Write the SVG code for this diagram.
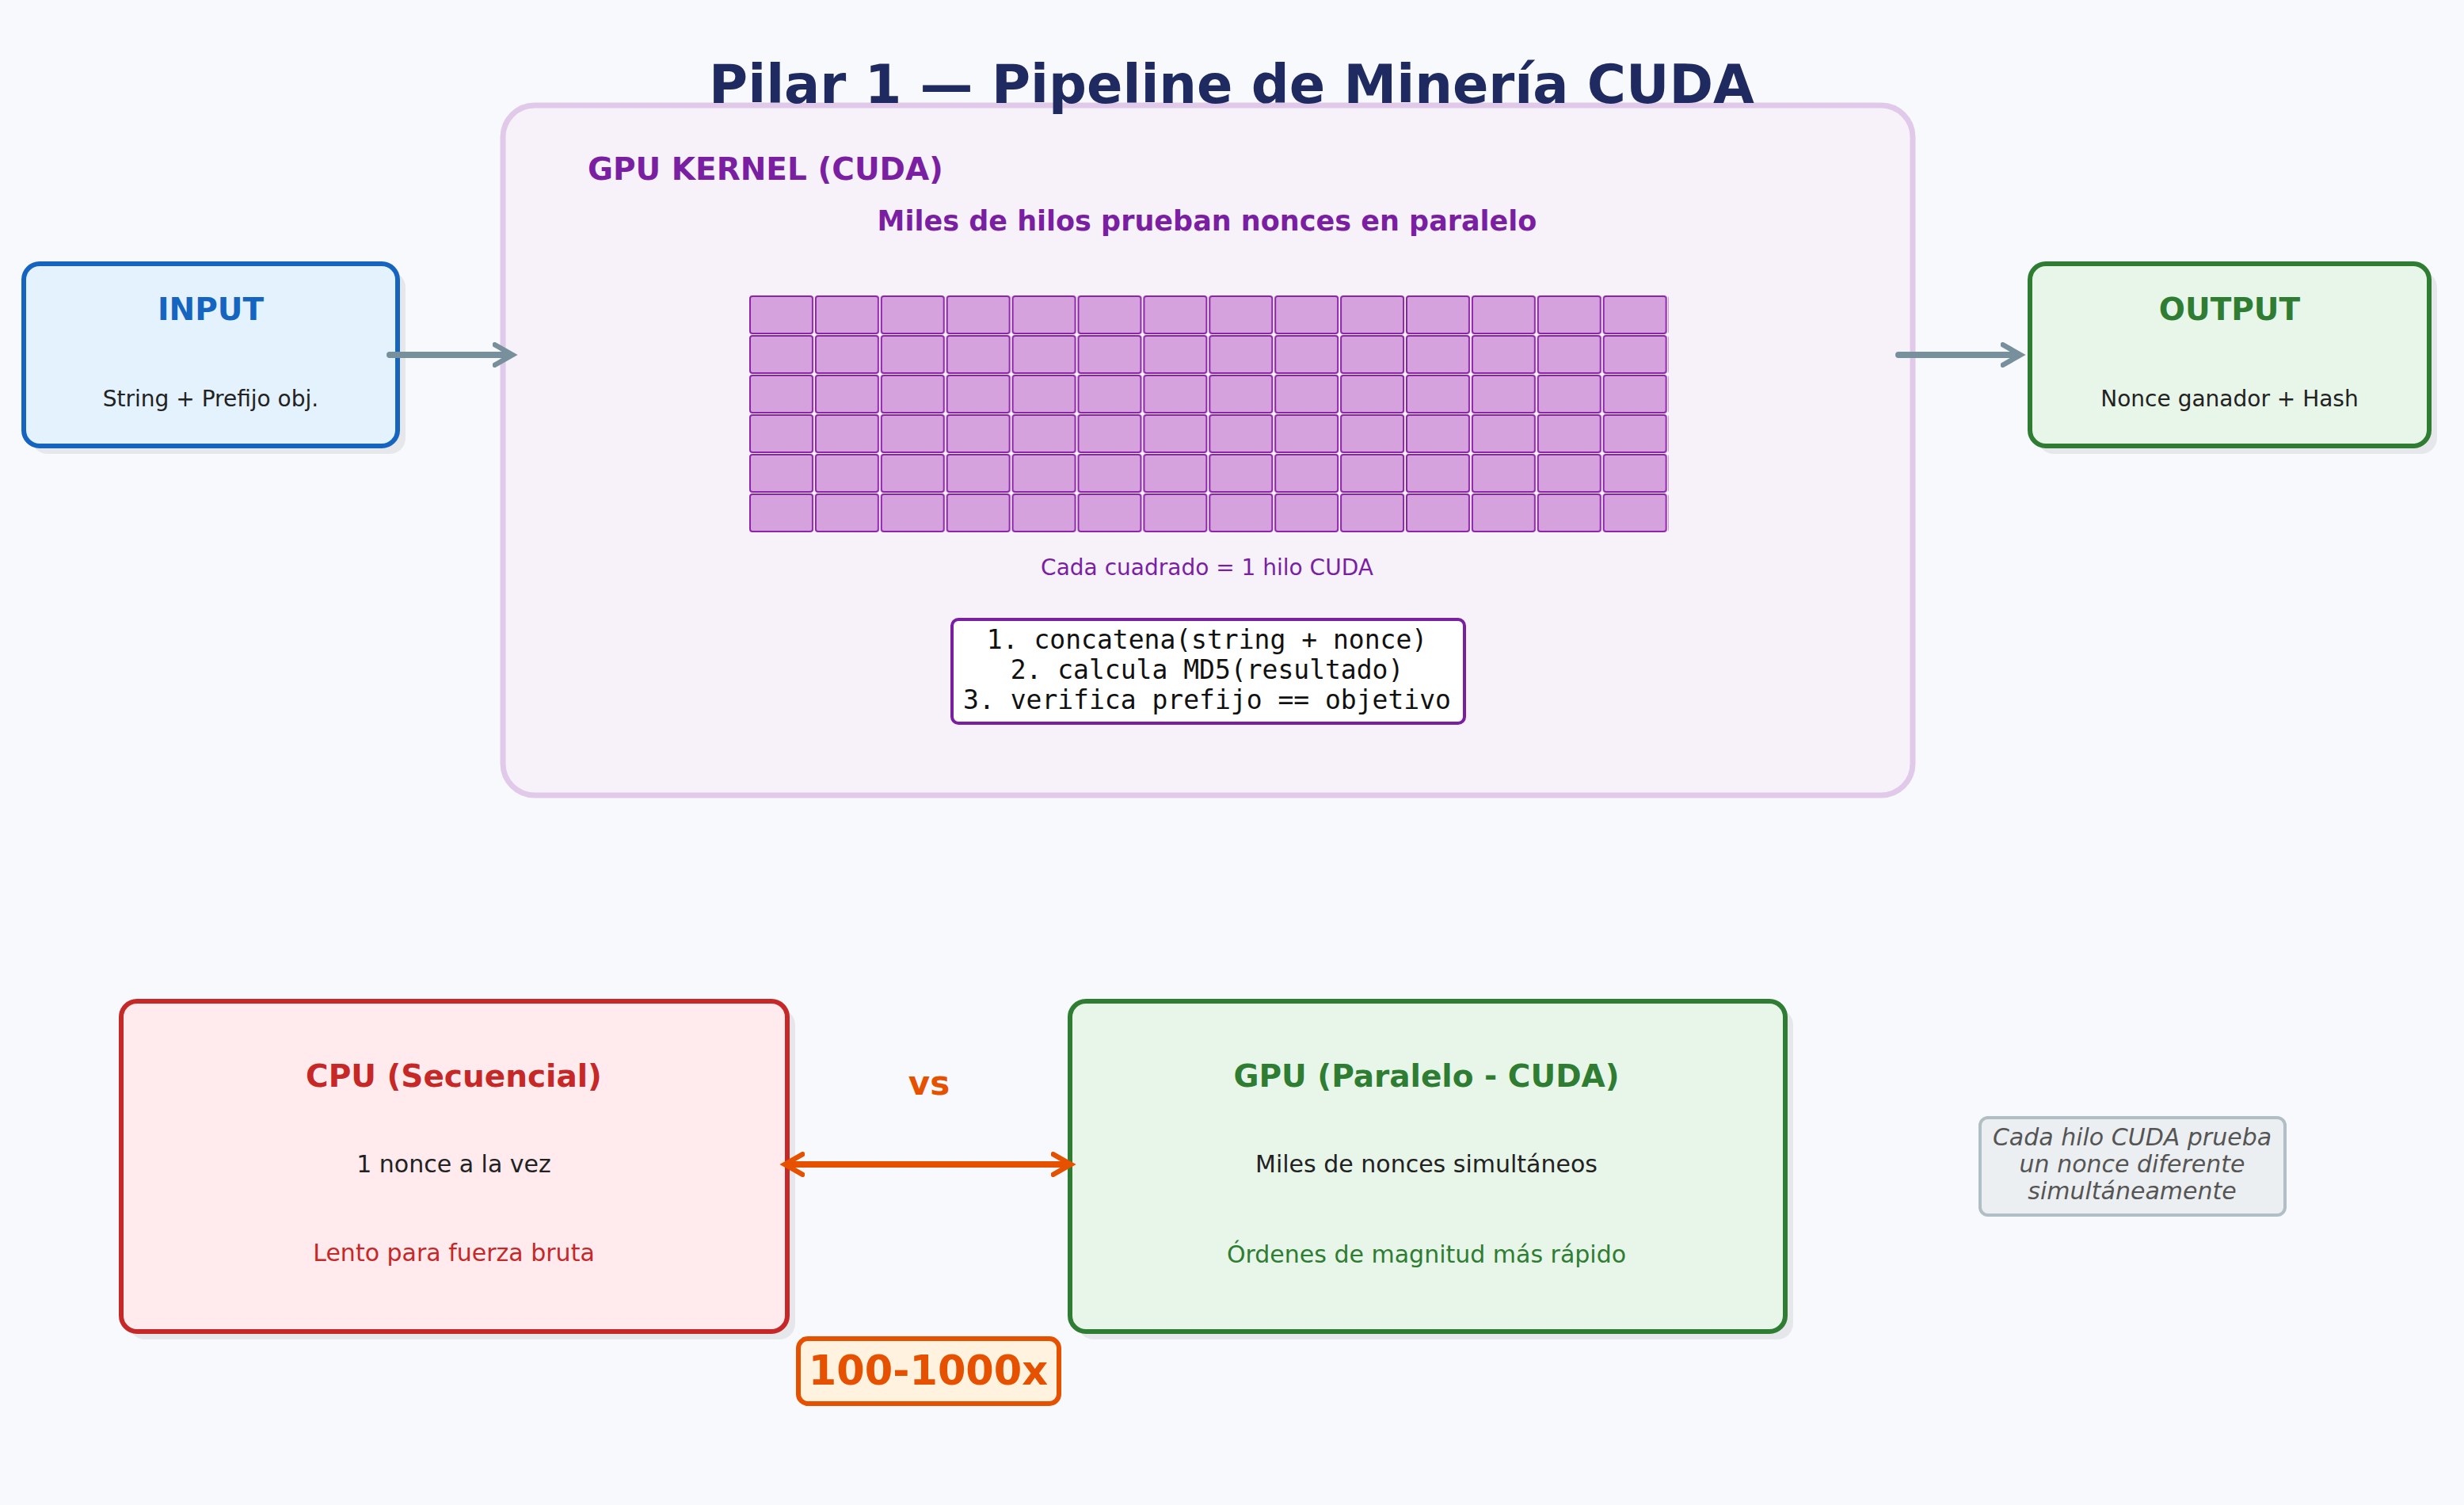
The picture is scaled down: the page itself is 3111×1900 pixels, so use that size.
<svg xmlns="http://www.w3.org/2000/svg" width="3111" height="1900" viewBox="0 0 3111 1900">
<style>
text{font-family:"DejaVu Sans",sans-serif;text-anchor:middle}
.b{font-weight:bold}
.cell{fill:#d6a2de;stroke:#8e24aa;stroke-width:2}
.sh{fill:#000;opacity:0.07}
.code{font-family:"DejaVu Sans Mono",monospace;font-size:33px;fill:#111}
</style>
<defs>
<marker id="ag" viewBox="0 0 10 10" refX="7" refY="5" markerWidth="4" markerHeight="4" orient="auto"><path d="M1,1 L8,5 L1,9" fill="none" stroke="#78909c" stroke-width="2" stroke-linecap="round"/></marker>
<marker id="ao" viewBox="0 0 10 10" refX="7" refY="5" markerWidth="4" markerHeight="4" orient="auto-start-reverse"><path d="M1,1 L8,5 L1,9" fill="none" stroke="#e65100" stroke-width="2" stroke-linecap="round"/></marker>
<pattern id="grid" x="946" y="373" width="82.9" height="50" patternUnits="userSpaceOnUse"><rect x="1" y="1" width="79" height="47" rx="3" class="cell"/></pattern>
</defs>
<rect width="3111" height="1900" fill="#f8f9fc"/>
<g id="kernel">
<rect x="635" y="133" width="1780" height="871" rx="40" fill="#f7f2fa" stroke="#e1c9ea" stroke-width="7"/>
<text x="742" y="227" class="b" font-size="39" fill="#7b1fa2" style="text-anchor:start">GPU KERNEL (CUDA)</text>
<text x="1524" y="291" class="b" font-size="35" fill="#7b1fa2">Miles de hilos prueban nonces en paralelo</text>
<rect x="945" y="372" width="1162" height="300" fill="url(#grid)"/>
<text x="1524" y="726" font-size="28" fill="#7b1fa2">Cada cuadrado = 1 hilo CUDA</text>
<rect x="1202" y="782" width="647" height="131" rx="8" fill="#fff" stroke="#7b1fa2" stroke-width="4"/>
<text x="1524" y="819" class="code">1. concatena(string + nonce)</text>
<text x="1524" y="857" class="code">2. calcula MD5(resultado)</text>
<text x="1524" y="895" class="code">3. verifica prefijo == objetivo</text>
</g>
<text x="1555" y="130" class="b" font-size="67" fill="#1f2a60">Pilar 1 — Pipeline de Minería CUDA</text>
<g id="input">
<rect x="40" y="343" width="472" height="230" rx="20" class="sh"/>
<rect x="30" y="333" width="472" height="230" rx="20" fill="#e3f2fd" stroke="#1565c0" stroke-width="6"/>
<text x="266" y="404" class="b" font-size="39" fill="#1565c0">INPUT</text>
<text x="266" y="513" font-size="28" fill="#222">String + Prefijo obj.</text>
</g>
<g id="output">
<rect x="2573" y="343" width="504" height="230" rx="20" class="sh"/>
<rect x="2563" y="333" width="504" height="230" rx="20" fill="#e8f5e9" stroke="#2e7d32" stroke-width="6"/>
<text x="2815" y="404" class="b" font-size="39" fill="#2e7d32">OUTPUT</text>
<text x="2815" y="513" font-size="28" fill="#222">Nonce ganador + Hash</text>
</g>
<g id="cpu">
<rect x="163" y="1274" width="841" height="417" rx="20" class="sh"/>
<rect x="153" y="1264" width="841" height="417" rx="20" fill="#ffebee" stroke="#c62828" stroke-width="6"/>
<text x="573" y="1372" class="b" font-size="39" fill="#c62828">CPU (Secuencial)</text>
<text x="573" y="1480" font-size="30" fill="#222">1 nonce a la vez</text>
<text x="573" y="1592" font-size="30" fill="#c62828">Lento para fuerza bruta</text>
</g>
<g id="gpu">
<rect x="1361" y="1274" width="903" height="417" rx="20" class="sh"/>
<rect x="1351" y="1264" width="903" height="417" rx="20" fill="#e8f5e9" stroke="#2e7d32" stroke-width="6"/>
<text x="1801" y="1372" class="b" font-size="39" fill="#2e7d32">GPU (Paralelo - CUDA)</text>
<text x="1801" y="1480" font-size="30" fill="#222">Miles de nonces simultáneos</text>
<text x="1801" y="1594" font-size="30" fill="#2e7d32">Órdenes de magnitud más rápido</text>
</g>
<g id="vs"><text x="1173" y="1382" class="b" font-size="42" fill="#e65100">vs</text></g>
<g id="speed">
<rect x="1008" y="1690" width="329" height="82" rx="12" fill="#fff3e0" stroke="#e65100" stroke-width="6"/>
<text x="1172" y="1748" class="b" font-size="51" fill="#e65100">100-1000x</text>
</g>
<g id="note">
<rect x="2500" y="1411" width="385" height="123" rx="10" fill="#eceff1" stroke="#b0bec5" stroke-width="4"/>
<g font-size="30" fill="#555" font-style="italic">
<text x="2692" y="1446">Cada hilo CUDA prueba</text>
<text x="2692" y="1480">un nonce diferente</text>
<text x="2692" y="1514">simultáneamente</text>
</g>
</g>
<g id="connectors" fill="none" stroke-linecap="round">
<line x1="492" y1="448" x2="644" y2="448" stroke="#78909c" stroke-width="8" marker-end="url(#ag)"/>
<line x1="2397" y1="448" x2="2548" y2="448" stroke="#78909c" stroke-width="8" marker-end="url(#ag)"/>
<line x1="994" y1="1470" x2="1349" y2="1470" stroke="#e65100" stroke-width="8" marker-start="url(#ao)" marker-end="url(#ao)"/>
</g>
</svg>
